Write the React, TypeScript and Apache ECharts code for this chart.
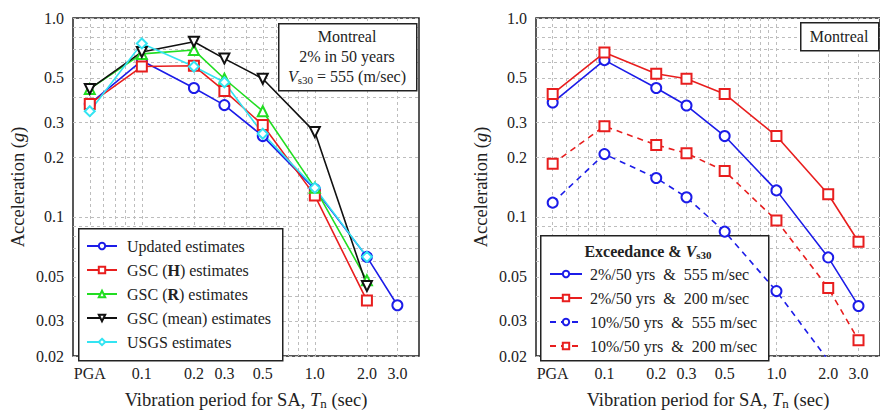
import React, { useEffect, useRef } from 'react';
import * as echarts from 'echarts';

// ---------- data ----------
const periods = [0.05, 0.1, 0.2, 0.3, 0.5, 1.0, 2.0, 3.0]; // PGA plotted at 0.05
const xTickLabels = ['PGA', '0.1', '0.2', '0.3', '0.5', '1.0', '2.0', '3.0'];
const yTickValues = [0.02, 0.03, 0.05, 0.1, 0.2, 0.3, 0.5, 1.0];
const yTickLabels = ['0.02', '0.03', '0.05', '0.1', '0.2', '0.3', '0.5', '1.0'];
const xGridValues = [0.05, 0.06, 0.07, 0.08, 0.09, 0.1, 0.2, 0.3, 0.4, 0.5, 0.6, 0.7, 0.8, 0.9, 1, 2, 3];
const yGridValues = [0.02, 0.03, 0.04, 0.05, 0.06, 0.07, 0.08, 0.09, 0.1, 0.2, 0.3, 0.4, 0.5, 0.6, 0.7, 0.8, 0.9, 1.0];

// left panel
const updatedEstimates = [0.37, 0.61, 0.445, 0.365, 0.255, 0.138, 0.063, 0.036];
const gscH = [0.37, 0.57, 0.575, 0.43, 0.29, 0.128, 0.038];
const gscR = [0.44, 0.66, 0.69, 0.495, 0.34, 0.14, 0.048];
const gscMean = [0.44, 0.675, 0.76, 0.625, 0.495, 0.267, 0.045];
const usgs = [0.34, 0.745, 0.57, 0.475, 0.262, 0.14, 0.063];

// right panel
const ex2_555 = [0.376, 0.614, 0.445, 0.363, 0.255, 0.136, 0.0626, 0.0357];
const ex2_200 = [0.415, 0.67, 0.525, 0.495, 0.415, 0.255, 0.13, 0.075];
const ex10_555 = [0.118, 0.207, 0.157, 0.1255, 0.0844, 0.0424, 0.019];
const ex10_200 = [0.185, 0.286, 0.23, 0.209, 0.17, 0.096, 0.044, 0.024];

// ---------- styles ----------
const FONT = '"Liberation Serif", "Times New Roman", serif';
const BLUE = '#1c1ce8';
const RED = '#e81e1e';
const GREEN = '#22dd22';
const BLACK = '#111111';
const CYAN = '#33e4f2';
const NAME_SIZE = 18.5;

function nearestLabel(v: number, values: number[], labels: string[]) {
  let best = -1;
  let bd = Infinity;
  values.forEach((p, i) => {
    const d = Math.abs(Math.log10(v) - Math.log10(p));
    if (d < bd) { bd = d; best = i; }
  });
  return bd < 0.02 ? labels[best] : '';
}

function makeX(gridIndex: number) {
  return {
    type: 'log',
    logBase: 10,
    gridIndex,
    min: 0.04,
    max: 4,
    axisLine: { show: false },
    axisTick: { show: false, customValues: xGridValues },
    splitLine: { show: true, lineStyle: { color: '#bdbdbd', type: [3, 3], width: 1 } },
    axisLabel: {
      customValues: periods,
      formatter: (v: number) => nearestLabel(v, periods, xTickLabels),
      fontFamily: FONT,
      fontSize: 16,
      color: '#222',
      margin: 9,
    },
    name: 'Vibration period for SA, {i|T}{sub|n} (sec)',
    nameLocation: 'middle',
    nameGap: 33,
    nameTextStyle: {
      fontFamily: FONT,
      fontSize: NAME_SIZE,
      color: '#222',
      rich: {
        i: { fontFamily: FONT, fontSize: NAME_SIZE, fontStyle: 'italic', color: '#222' },
        sub: { fontFamily: FONT, fontSize: 13, color: '#222', padding: [8, 0, 0, 0] },
      },
    },
  };
}

function makeY(gridIndex: number) {
  return {
    type: 'log',
    logBase: 10,
    gridIndex,
    min: 0.02,
    max: 1.0,
    axisLine: { show: false },
    axisTick: { show: false, customValues: yGridValues },
    splitLine: { show: true, lineStyle: { color: '#bdbdbd', type: [3, 3], width: 1 } },
    axisLabel: {
      customValues: yTickValues,
      formatter: (v: number) => nearestLabel(v, yTickValues, yTickLabels),
      fontFamily: FONT,
      fontSize: 16,
      color: '#222',
      margin: 9,
    },
    name: 'Acceleration ({i|g})',
    nameLocation: 'middle',
    nameRotate: 90,
    nameGap: 46,
    nameTextStyle: {
      fontFamily: FONT,
      fontSize: NAME_SIZE,
      color: '#222',
      rich: {
        i: { fontFamily: FONT, fontSize: NAME_SIZE, fontStyle: 'italic', color: '#222' },
      },
    },
  };
}

function lineSeries(
  name: string,
  idx: number,
  values: number[],
  color: string,
  symbol: string,
  dashed = false,
  rotate = 0,
) {
  return {
    type: 'line',
    name,
    xAxisIndex: idx,
    yAxisIndex: idx,
    data: values.map((v, i) => [periods[i], v]),
    symbol,
    symbolSize: 10,
    symbolRotate: rotate,
    showAllSymbol: true,
    clip: true,
    z: 3,
    lineStyle: { color, width: 1.6, type: dashed ? [6, 5] : 'solid' },
    itemStyle: { color, borderColor: color, borderWidth: 1.5 },
    emphasis: { disabled: true },
  };
}

const legendRich = {
  b: { fontFamily: FONT, fontSize: 16, fontWeight: 'bold', color: '#222' },
};

export default function App() {
  const ref = useRef<HTMLDivElement>(null);

  useEffect(() => {
    if (!ref.current) return;
    const chart = echarts.init(ref.current, undefined, { renderer: 'svg' });

    const option: any = {
      animation: false,
      backgroundColor: '#ffffff',
      grid: [
        { left: 73, top: 18, width: 346, height: 345, show: true, borderColor: '#222', borderWidth: 1.5, backgroundColor: 'transparent' },
        { left: 536, top: 18, width: 346, height: 345, show: true, borderColor: '#222', borderWidth: 1.5, backgroundColor: 'transparent' },
      ],
      xAxis: [makeX(0), makeX(1)],
      yAxis: [makeY(0), makeY(1)],
      legend: [
        {
          data: ['Updated estimates', 'GSC (H) estimates', 'GSC (R) estimates', 'GSC (mean) estimates', 'USGS estimates'],
          orient: 'vertical',
          left: 86,
          top: 237,
          padding: 0,
          itemWidth: 30,
          itemHeight: 8,
          itemGap: 6,
          z: 20,
          selectedMode: false,
          formatter: (name: string) => {
            if (name === 'GSC (H) estimates') return 'GSC ({b|H}) estimates';
            if (name === 'GSC (R) estimates') return 'GSC ({b|R}) estimates';
            return name;
          },
          textStyle: { fontFamily: FONT, fontSize: 16, color: '#222', lineHeight: 18, padding: [0, 0, 0, 5], rich: legendRich },
        },
        {
          data: ['2%/50 yrs  &  555 m/sec', '2%/50 yrs  &  200 m/sec', '10%/50 yrs  &  555 m/sec', '10%/50 yrs  &  200 m/sec'],
          orient: 'vertical',
          left: 549,
          top: 265,
          padding: 0,
          itemWidth: 32,
          itemHeight: 8,
          itemGap: 6,
          z: 20,
          selectedMode: false,
          textStyle: { fontFamily: FONT, fontSize: 16, color: '#222', lineHeight: 18, padding: [0, 0, 0, 3] },
        },
      ],
      series: [
        lineSeries('Updated estimates', 0, updatedEstimates, BLUE, 'emptyCircle'),
        lineSeries('GSC (H) estimates', 0, gscH, RED, 'emptyRect'),
        lineSeries('GSC (R) estimates', 0, gscR, GREEN, 'emptyTriangle'),
        lineSeries('GSC (mean) estimates', 0, gscMean, BLACK, 'emptyTriangle', false, 180),
        lineSeries('USGS estimates', 0, usgs, CYAN, 'emptyDiamond'),
        lineSeries('2%/50 yrs  &  555 m/sec', 1, ex2_555, BLUE, 'emptyCircle'),
        lineSeries('2%/50 yrs  &  200 m/sec', 1, ex2_200, RED, 'emptyRect'),
        lineSeries('10%/50 yrs  &  555 m/sec', 1, ex10_555, BLUE, 'emptyCircle', true),
        lineSeries('10%/50 yrs  &  200 m/sec', 1, ex10_200, RED, 'emptyRect', true),
      ],
      graphic: [
        // left annotation box
        { type: 'rect', left: 278, top: 23, z: 10, shape: { width: 138, height: 67 }, style: { fill: '#fff', stroke: '#222', lineWidth: 1.5 } },
        { type: 'text', x: 347, y: 36, z: 11, style: { text: 'Montreal', fontFamily: FONT, fontSize: 16, fill: '#222', align: 'center', verticalAlign: 'middle' } },
        { type: 'text', x: 347, y: 56, z: 11, style: { text: '2% in 50 years', fontFamily: FONT, fontSize: 16, fill: '#222', align: 'center', verticalAlign: 'middle' } },
        {
          type: 'text', x: 347, y: 76, z: 11,
          style: {
            text: '{i|V}{sub|s30} = 555 (m/sec)', fontFamily: FONT, fontSize: 16, fill: '#222', align: 'center', verticalAlign: 'middle',
            rich: {
              i: { fontFamily: FONT, fontSize: 16, fontStyle: 'italic', fill: '#222' },
              sub: { fontFamily: FONT, fontSize: 11, fill: '#222', padding: [7, 0, 0, 0] },
            },
          },
        },
        // left legend box (below series lines, above grid lines)
        { type: 'rect', left: 78, top: 228, z: 1, shape: { width: 204, height: 132 }, style: { fill: '#fff', stroke: '#222', lineWidth: 1.5 } },
        // right Montreal box
        { type: 'rect', left: 800, top: 22, z: 10, shape: { width: 78, height: 28 }, style: { fill: '#fff', stroke: '#222', lineWidth: 1.5 } },
        { type: 'text', x: 839, y: 36, z: 11, style: { text: 'Montreal', fontFamily: FONT, fontSize: 16, fill: '#222', align: 'center', verticalAlign: 'middle' } },
        // right legend box
        { type: 'rect', left: 540, top: 235, z: 1, shape: { width: 228, height: 125 }, style: { fill: '#fff', stroke: '#222', lineWidth: 1.5 } },
        {
          type: 'text', x: 648, y: 251, z: 11,
          style: {
            text: '{b|Exceedance & }{bi|V}{sub|s30}', fontFamily: FONT, fontSize: 16, fill: '#222', align: 'center', verticalAlign: 'middle',
            rich: {
              b: { fontFamily: FONT, fontSize: 16, fontWeight: 'bold', fill: '#222' },
              bi: { fontFamily: FONT, fontSize: 16, fontWeight: 'bold', fontStyle: 'italic', fill: '#222' },
              sub: { fontFamily: FONT, fontSize: 11, fontWeight: 'bold', fill: '#222', padding: [7, 0, 0, 0] },
            },
          },
        },
      ],
    };

    chart.setOption(option);
    return () => chart.dispose();
  }, []);

  return (
    <div
      ref={ref}
      style={{ position: 'fixed', left: 0, top: 0, width: 880, height: 415, background: '#fff' }}
    />
  );
}
